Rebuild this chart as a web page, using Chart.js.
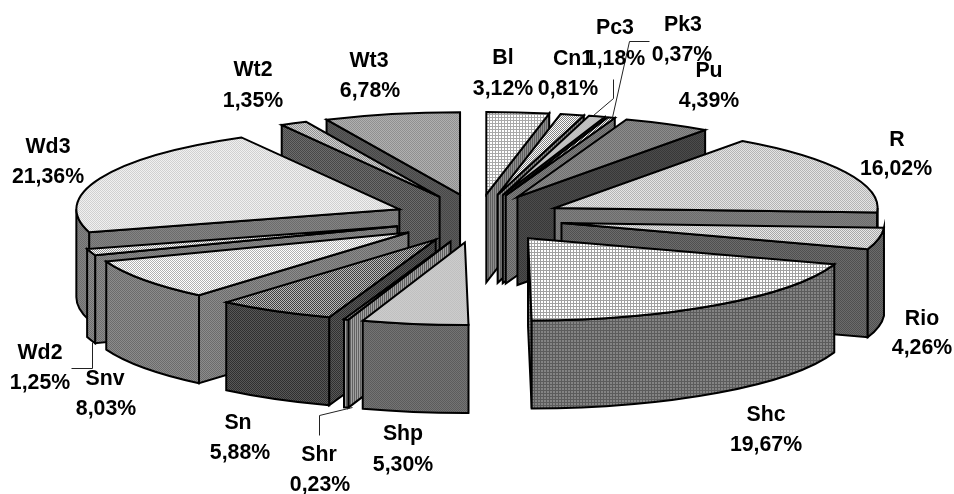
<!DOCTYPE html>
<html>
<head>
<meta charset="utf-8">
<style>
  html, body { margin: 0; background: #fff; }
  canvas { display: block; }
</style>
<script src="https://cdn.jsdelivr.net/npm/chart.js@4/dist/chart.umd.min.js"></script>
</head>
<body>
<canvas id="data_viz" width="954" height="494"></canvas>
<script>
// slices, clockwise from 12 o'clock
var names = ['Bl', 'Cn1', 'Pc3', 'Pk3', 'Pu', 'R', 'Rio', 'Shc', 'Shp', 'Shr', 'Sn', 'Snv', 'Wd2', 'Wd3', 'Wt2', 'Wt3']
var shares = [3.12, 1.18, 0.81, 0.37, 4.39, 16.02, 4.26, 19.67, 5.30, 0.23, 5.88, 8.03, 1.25, 21.36, 1.35, 6.78]

// fill of the top face and of the walls: [light, dark, kind]
var topFills = [
  ['#ffffff', '#a8a8a8', 'grid'], ['#ffffff', '#808080', 'dots'], ['#c4c4c4', '#bcbcbc', 'dots'], ['#ffffff', '#606060', 'dots'],
  ['#8c8c8c', '#707070', 'dots'], ['#e4e4e4', '#b4b4b4', 'dots'], ['#e8e8e8', '#a8a8a8', 'dots'], ['#ffffff', '#a0a0a0', 'grid'],
  ['#cccccc', '#c0c0c0', 'dots'], ['#a0a0a0', '#606060', 'stripes'], ['#b8b8b8', '#404040', 'dots'], ['#ffffff', '#b0b0b0', 'dots'],
  ['#ffffff', '#909090', 'dots'], ['#f0f0f0', '#d0d0d0', 'dots'], ['#d0d0d0', '#909090', 'dots'], ['#b0b0b0', '#909090', 'dots']
]
var wallFills = [
  ['#8c8c8c', '#606060', 'stripes'], ['#909090', '#606060', 'stripes'], ['#808080', '#606060', 'dots'], ['#808080', '#606060', 'dots'],
  ['#4c4c4c', '#383838', 'dots'], ['#808080', '#6c6c6c', 'dots'], ['#6c6c6c', '#505050', 'dots'], ['#848484', '#5c5c5c', 'grid'],
  ['#747474', '#5c5c5c', 'dots'], ['#a0a0a0', '#606060', 'stripes'], ['#585858', '#303030', 'dots'], ['#8c8c8c', '#6c6c6c', 'dots'],
  ['#8c8c8c', '#6c6c6c', 'dots'], ['#848484', '#6c6c6c', 'dots'], ['#6c6c6c', '#484848', 'dots'], ['#5c5c5c', '#484848', 'dots']
]

// text spots: [name x, name y, share x, share y]
var labelSpots = [
  [503, 58, 503, 89], [573, 59, 615, 59], [615, 28, 568, 89], [683, 25, 682, 55],
  [709, 71, 709, 101], [897, 140, 896, 169], [922, 319, 922, 348], [766, 415, 766, 445],
  [403, 434, 403, 465], [319, 455, 320, 485], [238, 423, 240, 453], [105, 379, 106, 409],
  [40, 353, 40, 383], [48, 147, 48, 177], [253, 70, 253, 101], [369, 61, 370, 91]
]
var leaderLines = [
  [[593, 115], [613, 98], [613, 79]],
  [[612, 117], [629, 41], [649, 41]],
  [[92, 342], [92, 368], [71, 368]],
  [[352, 407], [319, 415], [319, 435]]
]

var tilt = 0.255       // squash of the pie
var offsetTilt = 0.286 // squash of the explosion
var depth = 88

function makePattern(fill) {
  var size = fill[2] === 'grid' ? 3 : 2
  var c = document.createElement('canvas')
  c.width = size
  c.height = size
  var g = c.getContext('2d')
  g.fillStyle = fill[0]
  g.fillRect(0, 0, size, size)
  g.fillStyle = fill[1]
  if (fill[2] === 'grid') {
    g.fillRect(0, 0, 1, size)
    g.fillRect(0, 0, size, 1)
  } else if (fill[2] === 'stripes') {
    g.fillRect(0, 0, 1, size)
  } else {
    g.fillRect(0, 0, 1, 1)
    g.fillRect(1, 1, 1, 1)
  }
  return document.createElement('canvas').getContext('2d').createPattern(c, 'repeat')
}

var wallPatterns = wallFills.map(makePattern)

function paint(ctx, fill) {
  ctx.fillStyle = fill
  ctx.fill()
  ctx.stroke()
}

// one exploded slice: walls first, then the top face
function drawSlice(ctx, el, i) {
  var a = el.startAngle
  var b = el.endAngle
  var mid = (a + b) / 2
  var r = el.outerRadius
  var x = el.x + Math.cos(mid) * el.options.offset
  var y = el.y + Math.sin(mid) * el.options.offset * offsetTilt
  var ry = r * tilt

  // side cuts, only those facing the viewer
  ;[[a, Math.sin(a + Math.PI / 2) < 0], [b, Math.sin(b + Math.PI / 2) > 0]].forEach(function(w) {
    if (!w[1]) return
    var px = x + Math.cos(w[0]) * r
    var py = y + Math.sin(w[0]) * ry
    ctx.beginPath()
    ctx.moveTo(x, y)
    ctx.lineTo(px, py)
    ctx.lineTo(px, py + depth)
    ctx.lineTo(x, y + depth)
    ctx.closePath()
    paint(ctx, wallPatterns[i])
  })

  // rim, front half of the ellipse only
  var from = Math.max(a, 0)
  var to = Math.min(b, Math.PI)
  if (to > from) {
    ctx.beginPath()
    ctx.ellipse(x, y, r, ry, 0, from, to)
    ctx.ellipse(x, y + depth, r, ry, 0, to, from, true)
    ctx.closePath()
    paint(ctx, wallPatterns[i])
  }

  ctx.beginPath()
  ctx.moveTo(x, y)
  ctx.ellipse(x, y, r, ry, 0, a, b)
  ctx.closePath()
  paint(ctx, el.options.backgroundColor)
}

var pie3d = {
  id: 'pie3d',
  beforeDatasetDraw: function(chart, args) {
    var ctx = chart.ctx
    var arcs = chart.getDatasetMeta(args.index).data
    // back slices first, the ones nearest 6 o'clock last
    var order = arcs.map(function(el, i) { return i })
    order.sort(function(p, q) { return backness(arcs[p]) - backness(arcs[q]) })
    ctx.save()
    ctx.strokeStyle = '#000'
    ctx.lineWidth = 2
    ctx.lineJoin = 'miter'
    order.forEach(function(i) { drawSlice(ctx, arcs[i], i) })
    ctx.restore()
    return false
  },
  afterDraw: function(chart) {
    var ctx = chart.ctx
    ctx.save()
    ctx.strokeStyle = '#222'
    ctx.lineWidth = 1
    leaderLines.forEach(function(line) {
      ctx.beginPath()
      line.forEach(function(p, n) {
        if (n === 0) ctx.moveTo(p[0] + 0.5, p[1] + 0.5)
        else ctx.lineTo(p[0] + 0.5, p[1] + 0.5)
      })
      ctx.stroke()
    })
    ctx.fillStyle = '#000'
    ctx.font = 'bold 21.3px "Liberation Sans", Arial, sans-serif'
    ctx.textAlign = 'center'
    ctx.textBaseline = 'middle'
    names.forEach(function(name, i) {
      var s = labelSpots[i]
      ctx.fillText(name, s[0], s[1])
      ctx.fillText(shares[i].toFixed(2).replace('.', ',') + '%', s[2], s[3])
    })
    ctx.restore()
  }
}

function backness(el) {
  var mid = (el.startAngle + el.endAngle) / 2 + Math.PI / 2
  return mid > Math.PI ? 2 * Math.PI - mid : mid
}

var chart = new Chart(document.getElementById('data_viz'), {
  type: 'pie',
  data: {
    labels: names,
    datasets: [{
      data: shares,
      backgroundColor: topFills.map(makePattern),
      borderWidth: 0,
      offset: 85,
      radius: 323
    }]
  },
  options: {
    responsive: false,
    animation: false,
    layout: { padding: { bottom: 57, left: 2 } },
    plugins: {
      legend: { display: false },
      tooltip: { enabled: false }
    }
  },
  plugins: [pie3d]
})
</script>
</body>
</html>
